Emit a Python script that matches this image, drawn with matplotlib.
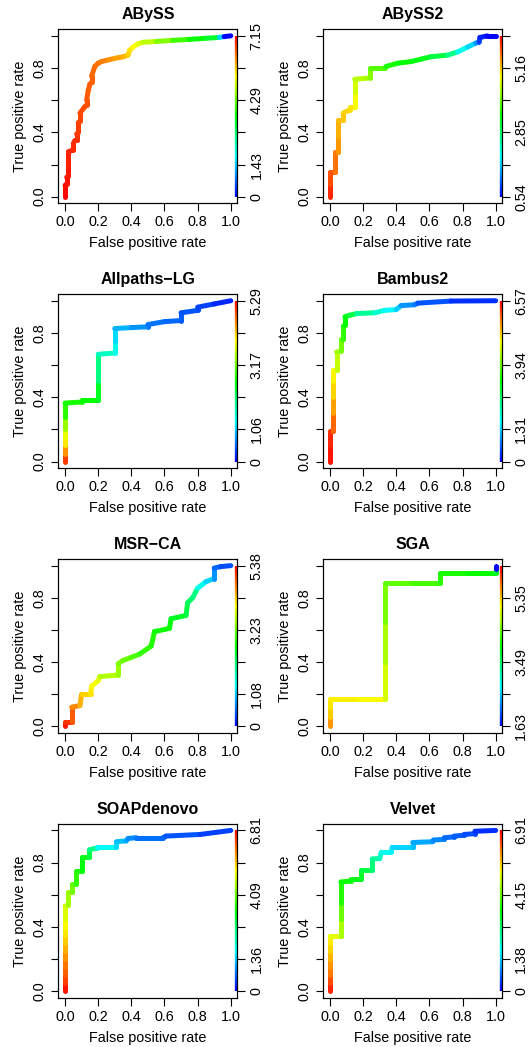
import numpy as np
import matplotlib
matplotlib.use("Agg")
import matplotlib.pyplot as plt
from matplotlib.collections import LineCollection
from matplotlib.colors import ListedColormap, Normalize, hsv_to_rgb

plt.rcParams['font.family'] = ['Liberation Sans', 'DejaVu Sans']

# ---------------------------------------------------------------- data
assemblers = ["ABySS", "ABySS2", "Allpaths\u2212LG", "Bambus2",
              "MSR\u2212CA", "SGA", "SOAPdenovo", "Velvet"]

abyss_fpr = [0, 0, 0.01, 0.01, 0.02, 0.02, 0.02, 0.05, 0.05, 0.06, 0.07, 0.07, 0.08, 0.08,
             0.09, 0.09, 0.12, 0.13, 0.13, 0.14, 0.15, 0.16, 0.16, 0.18, 0.20, 0.22, 0.26,
             0.30, 0.35, 0.38, 0.39, 0.41, 0.44, 0.47, 0.55, 0.65, 0.75, 0.85, 0.93, 0.96, 1.0]
abyss_tpr = [0, 0.07, 0.08, 0.12, 0.13, 0.20, 0.28, 0.29, 0.33, 0.35, 0.35, 0.39, 0.40, 0.46,
             0.47, 0.52, 0.56, 0.57, 0.60, 0.66, 0.70, 0.71, 0.75, 0.81, 0.83, 0.84, 0.85,
             0.86, 0.87, 0.88, 0.91, 0.93, 0.95, 0.96, 0.965, 0.972, 0.978, 0.985, 0.99, 0.995, 1.0]
abyss_cut = [7.15, 7.09, 7.06, 7.03, 7.00, 6.97, 6.91, 6.88, 6.85, 6.82, 6.82, 6.79, 6.76, 6.73,
             6.73, 6.67, 6.64, 6.61, 6.58, 6.52, 6.49, 6.49, 6.46, 6.41, 6.35, 6.32, 6.23,
             6.14, 6.02, 5.87, 5.66, 5.51, 5.36, 5.18, 4.89, 4.47, 4.02, 3.63, 3.28, 1.49, 0.00]

abyss2_fpr = [0, 0, 0, 0.03, 0.03, 0.05, 0.05, 0.05, 0.08, 0.08, 0.12, 0.12, 0.15, 0.15, 0.15,
              0.21, 0.24, 0.24, 0.33, 0.34, 0.41, 0.49, 0.55, 0.61, 0.71, 0.77, 0.83, 0.88,
              0.90, 0.905, 0.95, 1.0]
abyss2_tpr = [0, 0.08, 0.155, 0.155, 0.28, 0.28, 0.38, 0.477, 0.477, 0.52, 0.54, 0.56, 0.56,
              0.65, 0.73, 0.735, 0.74, 0.80, 0.80, 0.81, 0.83, 0.84, 0.855, 0.87, 0.88, 0.90,
              0.93, 0.955, 0.96, 0.99, 1.0, 1.0]
abyss2_cut = [6.31, 6.07, 5.88, 5.83, 5.64, 5.59, 5.44, 5.30, 5.25, 5.18, 5.11, 5.06, 5.01,
              4.82, 4.63, 4.48, 4.39, 4.19, 3.91, 3.79, 3.55, 3.43, 3.35, 3.28, 3.06, 2.70,
              2.10, 1.74, 1.38, 0.90, 0.73, 0.54]

allpaths_fpr = [0, 0, 0, 0, 0, 0, 0, 0.1, 0.1, 0.2, 0.2, 0.2, 0.3, 0.3, 0.3, 0.4, 0.5, 0.5,
                0.6, 0.7, 0.7, 0.8, 0.8, 0.9, 1.0]
allpaths_tpr = [0, 0.05, 0.10, 0.15, 0.20, 0.28, 0.364, 0.37, 0.384, 0.384, 0.50, 0.667,
                0.675, 0.75, 0.827, 0.833, 0.838, 0.852, 0.87, 0.877, 0.925, 0.94, 0.96, 0.98, 1.0]
allpaths_cut = [5.29, 4.96, 4.52, 4.08, 3.86, 3.42, 2.87, 2.76, 2.71, 2.65, 2.47, 1.98,
                1.65, 1.43, 1.15, 0.93, 0.77, 0.66, 0.60, 0.55, 0.48, 0.44, 0.40, 0.35, 0.22]

bambus_fpr = [0, 0, 0, 0.02, 0.02, 0.02, 0.02, 0.02, 0.04, 0.04, 0.066, 0.066, 0.08, 0.08,
              0.09, 0.09, 0.12, 0.16, 0.27, 0.33, 0.40, 0.43, 0.51, 0.53, 0.73, 1.0]
bambus_tpr = [0, 0.10, 0.19, 0.19, 0.30, 0.40, 0.50, 0.57, 0.57, 0.68, 0.69, 0.76, 0.76, 0.84,
              0.85, 0.90, 0.91, 0.92, 0.925, 0.94, 0.945, 0.97, 0.975, 0.985, 0.998, 1.0]
bambus_cut = [6.57, 6.43, 6.30, 6.19, 5.89, 5.53, 5.20, 4.98, 4.87, 4.52, 4.33, 4.05, 3.94,
              3.61, 3.50, 3.29, 3.12, 2.87, 2.33, 1.97, 1.64, 1.31, 0.96, 0.82, 0.55, 0.33]

msrca_fpr = [0, 0, 0.04, 0.04, 0.09, 0.10, 0.155, 0.16, 0.20, 0.21, 0.32, 0.32, 0.35, 0.40,
             0.45, 0.52, 0.54, 0.63, 0.64, 0.73, 0.74, 0.77, 0.80, 0.85, 0.90, 0.90, 0.94, 1.0]
msrca_tpr = [0, 0.025, 0.025, 0.12, 0.13, 0.20, 0.20, 0.25, 0.285, 0.31, 0.32, 0.39, 0.41,
             0.43, 0.45, 0.50, 0.59, 0.61, 0.67, 0.69, 0.77, 0.80, 0.86, 0.90, 0.92, 0.985,
             0.994, 1.0]
msrca_cut = [5.38, 5.27, 5.11, 4.89, 4.66, 4.44, 4.26, 4.15, 3.99, 3.90, 3.63, 3.47, 3.36,
             3.23, 3.09, 2.96, 2.85, 2.74, 2.65, 2.51, 2.35, 2.20, 2.02, 1.46, 1.12, 0.78,
             0.56, 0.40]

sga_fpr = [0, 0, 0, 0, 0.17, 0.333, 0.333, 0.333, 0.333, 0.5, 0.667, 0.667, 0.83, 1.0, 1.0, 1.0]
sga_tpr = [0, 0.06, 0.12, 0.17, 0.17, 0.17, 0.40, 0.65, 0.89, 0.89, 0.89, 0.955, 0.955,
           0.955, 0.98, 1.0]
sga_cut = [6.28, 5.60, 5.35, 5.21, 5.18, 5.12, 4.92, 4.73, 4.50, 4.38, 4.28, 4.15, 4.07,
           3.99, 3.76, 1.63]

soap_fpr = [0, 0, 0, 0, 0, 0, 0, 0, 0, 0, 0, 0.02, 0.02, 0.04, 0.04, 0.066, 0.066, 0.10,
            0.10, 0.147, 0.147, 0.19, 0.19, 0.31, 0.31, 0.37, 0.38, 0.43, 0.59, 0.61, 0.815, 1.0]
soap_tpr = [0, 0.05, 0.10, 0.15, 0.20, 0.25, 0.30, 0.35, 0.40, 0.45, 0.53, 0.535, 0.615,
            0.615, 0.67, 0.67, 0.75, 0.75, 0.835, 0.835, 0.88, 0.89, 0.90, 0.90, 0.93, 0.935,
            0.95, 0.955, 0.955, 0.965, 0.975, 1.0]
soap_cut = [6.81, 6.67, 6.38, 6.19, 6.02, 5.82, 5.62, 5.45, 5.25, 5.11, 4.88, 4.77, 4.48,
            4.40, 4.20, 4.09, 3.75, 3.63, 3.35, 3.23, 2.98, 2.55, 2.33, 1.76, 1.48, 1.28,
            1.14, 0.94, 0.77, 0.68, 0.57, 0.43]

velvet_fpr = [0, 0, 0, 0, 0, 0, 0, 0, 0.066, 0.066, 0.066, 0.066, 0.125, 0.125, 0.19, 0.19,
              0.255, 0.255, 0.30, 0.31, 0.37, 0.375, 0.50, 0.50, 0.62, 0.625, 0.69, 0.69,
              0.75, 0.75, 0.81, 0.81, 0.875, 0.875, 1.0]
velvet_tpr = [0, 0.05, 0.10, 0.15, 0.20, 0.25, 0.30, 0.345, 0.345, 0.45, 0.55, 0.68, 0.685,
              0.70, 0.70, 0.755, 0.755, 0.823, 0.825, 0.865, 0.865, 0.895, 0.895, 0.925,
              0.93, 0.94, 0.945, 0.955, 0.96, 0.965, 0.97, 0.975, 0.98, 0.995, 1.0]
velvet_cut = [6.91, 6.68, 6.39, 6.10, 5.90, 5.67, 5.47, 5.30, 5.01, 4.61, 4.17, 3.69, 3.51,
              3.46, 3.34, 3.17, 2.99, 2.65, 2.45, 2.16, 1.87, 1.67, 1.44, 1.30, 1.15, 1.01,
              0.92, 0.84, 0.75, 0.69, 0.63, 0.58, 0.52, 0.46, 0.35]

fpr_values = [abyss_fpr, abyss2_fpr, allpaths_fpr, bambus_fpr,
              msrca_fpr, sga_fpr, soap_fpr, velvet_fpr]
tpr_values = [abyss_tpr, abyss2_tpr, allpaths_tpr, bambus_tpr,
              msrca_tpr, sga_tpr, soap_tpr, velvet_tpr]
cutoff_values = [abyss_cut, abyss2_cut, allpaths_cut, bambus_cut,
                 msrca_cut, sga_cut, soap_cut, velvet_cut]

# cutoff scale of each colour key
cutoff_min = [0, 0.54, 0, 0, 0, 1.63, 0, 0]
cutoff_max = [7.15, 6.31, 5.29, 6.57, 5.38, 6.28, 6.81, 6.91]
cutoff_labels = [
    ["0", "1.43", "", "4.29", "", "7.15"],
    ["0.54", "", "2.85", "", "5.16", ""],
    ["0", "1.06", "", "3.17", "", "5.29"],
    ["0", "1.31", "", "3.94", "", "6.57"],
    ["0", "1.08", "", "3.23", "", "5.38"],
    ["1.63", "", "3.49", "", "5.35", ""],
    ["0", "1.36", "", "4.09", "", "6.81"],
    ["0", "1.38", "", "4.15", "", "6.91"],
]

rate_ticks = [0.0, 0.2, 0.4, 0.6, 0.8, 1.0]
x_tick_labels = ["0.0", "0.2", "0.4", "0.6", "0.8", "1.0"]
y_tick_labels = ["0.0", "", "0.4", "", "0.8", ""]

# ---------------------------------------------------------------- style
W, H = 531, 1047
fig = plt.figure(figsize=(W / 100, H / 100), dpi=100)

hues = np.linspace(4 / 6, 0, 256)
palette = ListedColormap(hsv_to_rgb(np.column_stack([hues, np.ones(256), np.ones(256)])))

col_left = [58.4, 323.3]
row_top = [29.4, 294.3, 559.2, 824.0]
box_w, box_h = 179.0, 173.7
lim = (-0.04, 1.04)
fs = 10.4
tick_len = 5.4
tick_pad = 8.3

for i, name in enumerate(assemblers):
    r, c = divmod(i, 2)
    left, top = col_left[c], row_top[r]
    ax = fig.add_axes([left / W, 1 - (top + box_h) / H, box_w / W, box_h / H])
    ax.set_xlim(lim)
    ax.set_ylim(lim)

    norm = Normalize(vmin=cutoff_min[i], vmax=cutoff_max[i])
    pts = np.column_stack([fpr_values[i], tpr_values[i]])
    segs = np.stack([pts[:-1], pts[1:]], axis=1)
    seg_colors = palette(norm(np.asarray(cutoff_values[i][1:])))
    ax.add_collection(LineCollection(segs, colors=seg_colors, linewidths=3.6,
                                     capstyle='round', joinstyle='round', zorder=3))

    # colour key along the right edge
    ky = np.linspace(0, 1, 257)
    kx = 1.032 if c == 0 else 1.031
    key_segs = [[(kx, ky[k]), (kx, ky[k + 1])] for k in range(256)]
    ax.add_collection(LineCollection(key_segs, colors=palette(np.linspace(0, 1, 256)),
                                     linewidths=1.7, capstyle='butt', zorder=2))

    for sp in ax.spines.values():
        sp.set_linewidth(0.8)
    ax.set_xticks(rate_ticks)
    ax.set_xticklabels(x_tick_labels)
    ax.set_yticks(rate_ticks)
    ax.set_yticklabels(y_tick_labels)
    ax.tick_params(direction='out', length=tick_len, width=0.8, labelsize=fs, pad=tick_pad)
    for t in ax.get_xticklabels():
        t.set_verticalalignment('center')
    for t in ax.get_yticklabels():
        t.set_rotation(90)
        t.set_horizontalalignment('center')
        t.set_verticalalignment('center')

    ax2 = ax.twinx()
    ax2.set_ylim(lim)
    ax2.set_yticks(rate_ticks)
    ax2.set_yticklabels(cutoff_labels[i])
    ax2.tick_params(direction='out', length=tick_len, width=0.8, labelsize=fs, pad=tick_pad)
    for t in ax2.get_yticklabels():
        t.set_rotation(90)
        t.set_horizontalalignment('center')
        t.set_verticalalignment('center')
    for sp in ax2.spines.values():
        sp.set_linewidth(0.8)

    ax.text(0.5, 1 + 14.6 / box_h, name, transform=ax.transAxes, ha='center', va='center',
            fontsize=11.5, fontweight='bold')
    ax.text(0.5, -40.0 / box_h, "False positive rate", transform=ax.transAxes,
            ha='center', va='center', fontsize=fs)
    ax.text(-38.4 / box_w, 0.5, "True positive rate", transform=ax.transAxes,
            ha='center', va='center', rotation=90, fontsize=fs)

fig.savefig("out.png", dpi=100)
